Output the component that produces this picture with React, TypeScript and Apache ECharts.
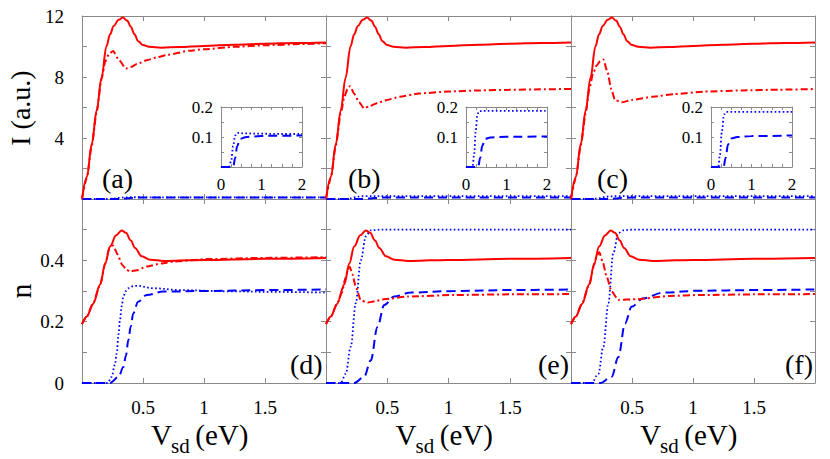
import React, { useEffect, useRef } from 'react';
import * as echarts from 'echarts';

const FONT = 'Liberation Serif, Times New Roman, serif';

// ---------- data (x in eV) ----------
const currentSolid: number[][] = [
  [0, 0], [0.04, 1.45], [0.08, 3.6], [0.12, 5.8], [0.16, 7.95], [0.2, 10.0], [0.23, 10.8],
  [0.26, 11.35], [0.3, 11.75], [0.335, 11.9], [0.37, 11.7], [0.4, 11.3], [0.43, 10.8],
  [0.46, 10.35], [0.5, 10.1], [0.55, 9.98], [0.65, 9.92], [0.8, 9.97], [1.0, 10.04],
  [1.25, 10.12], [1.5, 10.18], [1.75, 10.23], [2.0, 10.27],
];
const currentDashDotA: number[][] = [
  [0, 0], [0.04, 1.4], [0.08, 3.5], [0.12, 5.7], [0.16, 7.85], [0.19, 9.0], [0.22, 9.5],
  [0.255, 9.7], [0.3, 9.15], [0.36, 8.55], [0.4, 8.65], [0.45, 8.85], [0.53, 9.1],
  [0.62, 9.3], [0.7, 9.45], [0.88, 9.72], [1.0, 9.82], [1.25, 9.98], [1.5, 10.08],
  [1.8, 10.16], [2.0, 10.22],
];
const currentDashDotB: number[][] = [
  [0, 0], [0.04, 1.4], [0.08, 3.5], [0.12, 5.6], [0.15, 6.7], [0.175, 7.2], [0.197, 7.4],
  [0.23, 6.9], [0.27, 6.35], [0.31, 5.95], [0.36, 6.1], [0.42, 6.3], [0.5, 6.5], [0.6, 6.7],
  [0.76, 6.92], [1.0, 7.05], [1.25, 7.12], [1.5, 7.16], [1.75, 7.19], [2.0, 7.22],
];
const currentDashDotC: number[][] = [
  [0, 0], [0.04, 1.4], [0.08, 3.5], [0.12, 5.6], [0.15, 7.2], [0.18, 8.2], [0.21, 8.75],
  [0.24, 9.05], [0.265, 9.15], [0.3, 8.3], [0.33, 7.2], [0.36, 6.5], [0.415, 6.34],
  [0.5, 6.5], [0.675, 6.71], [0.85, 6.88], [1.085, 7.04], [1.4, 7.12], [1.7, 7.17], [2.0, 7.21],
];
const currentDottedA: number[][] = [
  [0, 0], [0.2, 0], [0.25, 0.02], [0.3, 0.07], [0.35, 0.105], [0.4, 0.114], [0.6, 0.112],
  [1, 0.111], [1.5, 0.11], [2, 0.11],
];
const currentDashedA: number[][] = [
  [0, 0], [0.3, 0], [0.35, 0.03], [0.4, 0.07], [0.47, 0.094], [0.6, 0.099], [0.8, 0.102],
  [1.2, 0.104], [2, 0.105],
];
const currentDottedB: number[][] = [
  [0, 0], [0.16, 0], [0.2, 0.04], [0.24, 0.12], [0.28, 0.175], [0.32, 0.186], [0.5, 0.187], [2, 0.187],
];
const currentDashedB: number[][] = [
  [0, 0], [0.3, 0], [0.35, 0.03], [0.4, 0.07], [0.47, 0.094], [0.6, 0.098], [0.8, 0.1],
  [1.2, 0.101], [2, 0.102],
];
const currentDottedC: number[][] = [
  [0, 0], [0.18, 0], [0.22, 0.04], [0.27, 0.12], [0.32, 0.175], [0.38, 0.184], [0.6, 0.184], [2, 0.184],
];
const currentDashedC: number[][] = [
  [0, 0], [0.31, 0], [0.36, 0.03], [0.42, 0.075], [0.5, 0.095], [0.65, 0.1], [1, 0.103], [2, 0.105],
];

const occSolid: number[][] = [
  [0, 0.192], [0.04, 0.217], [0.09, 0.258], [0.15, 0.322], [0.19, 0.39], [0.23, 0.445],
  [0.28, 0.482], [0.325, 0.497], [0.36, 0.49], [0.4, 0.465], [0.435, 0.44], [0.49, 0.413],
  [0.56, 0.402], [0.67, 0.398], [0.85, 0.4], [1.0, 0.401], [1.5, 0.405], [2, 0.408],
];
const occDashDotD: number[][] = [
  [0, 0.192], [0.04, 0.217], [0.09, 0.258], [0.15, 0.322], [0.19, 0.39], [0.225, 0.44],
  [0.257, 0.448], [0.29, 0.42], [0.33, 0.385], [0.366, 0.369], [0.393, 0.364], [0.45, 0.368],
  [0.53, 0.38], [0.65, 0.39], [0.75, 0.396], [1.02, 0.404], [1.5, 0.408], [2, 0.41],
];
const occDottedD: number[][] = [
  [0, 0], [0.21, 0], [0.243, 0.02], [0.27, 0.06], [0.284, 0.096], [0.3, 0.16], [0.311, 0.205],
  [0.325, 0.25], [0.339, 0.282], [0.36, 0.3], [0.38, 0.309], [0.42, 0.316], [0.448, 0.317],
  [0.585, 0.309], [0.8, 0.303], [1.2, 0.299], [1.6, 0.297], [2, 0.295],
];
const occDashedD: number[][] = [
  [0, 0], [0.23, 0], [0.3, 0.02], [0.339, 0.052], [0.36, 0.09], [0.38, 0.14], [0.4, 0.185],
  [0.42, 0.227], [0.46, 0.265], [0.53, 0.287], [0.667, 0.298], [1.02, 0.3], [1.5, 0.303], [2, 0.305],
];
const occDashDotE: number[][] = [
  [0, 0.192], [0.04, 0.217], [0.09, 0.258], [0.13, 0.295], [0.16, 0.345], [0.18, 0.372],
  [0.195, 0.378], [0.215, 0.355], [0.243, 0.314], [0.284, 0.27], [0.339, 0.262], [0.4, 0.267],
  [0.475, 0.273], [0.667, 0.282], [1.05, 0.287], [1.5, 0.289], [2, 0.29],
];
const occDottedE: number[][] = [
  [0, 0], [0.12, 0], [0.161, 0.03], [0.202, 0.118], [0.243, 0.26], [0.284, 0.4], [0.325, 0.478],
  [0.366, 0.498], [0.45, 0.5], [2, 0.5],
];
const occDashedE: number[][] = [
  [0, 0], [0.23, 0], [0.311, 0.02], [0.366, 0.074], [0.42, 0.183], [0.475, 0.254], [0.557, 0.282],
  [0.694, 0.295], [1.05, 0.3], [1.5, 0.303], [2, 0.305],
];
const occDashDotF: number[][] = [
  [0, 0.192], [0.04, 0.217], [0.09, 0.258], [0.15, 0.322], [0.19, 0.385], [0.21, 0.415],
  [0.232, 0.426], [0.26, 0.395], [0.292, 0.347], [0.333, 0.298], [0.388, 0.271], [0.538, 0.273],
  [0.81, 0.284], [1.06, 0.287], [1.5, 0.289], [2, 0.29],
];
const occDottedF: number[][] = [
  [0, 0], [0.17, 0], [0.224, 0.03], [0.265, 0.118], [0.306, 0.26], [0.347, 0.424], [0.388, 0.489],
  [0.43, 0.498], [0.5, 0.5], [2, 0.5],
];
const occDashedF: number[][] = [
  [0, 0], [0.238, 0], [0.333, 0.02], [0.388, 0.085], [0.443, 0.194], [0.497, 0.249], [0.593, 0.276],
  [0.757, 0.295], [1.06, 0.301], [1.5, 0.303], [2, 0.305],
];

const panelLabels = ['(a)', '(b)', '(c)', '(d)', '(e)', '(f)'];
const xTickLabels = ['0.5', '1', '1.5'];
const currentTickLabels = ['4', '8', '12'];
const occTickLabels = ['0', '0.2', '0.4'];
const insetXTickLabels = ['0', '1', '2'];
const insetYTickLabels = ['0.1', '0.2'];

// ---------- layout ----------
const GRAY = '#8a8a8a';
const RED = '#ff0000';
const BLUE = '#0000ff';

const grids = [
  { left: 82, top: 16, width: 244, height: 183 },
  { left: 326, top: 16, width: 245, height: 183 },
  { left: 571, top: 16, width: 244, height: 183 },
  { left: 82, top: 199, width: 244, height: 184 },
  { left: 326, top: 199, width: 245, height: 184 },
  { left: 571, top: 199, width: 244, height: 184 },
  { left: 221, top: 107, width: 81, height: 60 },
  { left: 466, top: 107, width: 81, height: 60 },
  { left: 711, top: 107, width: 81, height: 60 },
];

const fmtSet = (labels: string[]) => (v: number) => {
  const s = String(Math.round(v * 1000) / 1000);
  return labels.indexOf(s) >= 0 ? s : '';
};

function makeAxes() {
  const xAxis: any[] = [];
  const yAxis: any[] = [];
  grids.forEach((_, g) => {
    const inset = g >= 6;
    const top = g < 3;
    const xCommon = {
      type: 'value', gridIndex: g, min: 0, max: 2, interval: inset ? 0.25 : 0.5,
      axisLine: { show: true, onZero: false, lineStyle: { color: GRAY, width: 1 } },
      axisTick: { show: true, inside: true, length: inset ? 3 : 5, lineStyle: { color: GRAY } },
      splitLine: { show: false },
    };
    let xLabels: any = { show: false };
    if (inset) {
      xLabels = { show: true, formatter: fmtSet(insetXTickLabels), fontFamily: FONT, fontSize: 17, color: '#000', margin: 9, showMinLabel: true, showMaxLabel: true };
    } else if (!top) {
      xLabels = { show: true, formatter: fmtSet(xTickLabels), fontFamily: FONT, fontSize: 19, color: '#000', margin: 15 };
    }
    xAxis.push({ ...xCommon, position: 'bottom', axisLabel: xLabels });
    xAxis.push({ ...xCommon, position: 'top', axisLabel: { show: false } });

    const yRange = inset ? { min: 0, max: 0.2, interval: 0.05 } : top ? { min: 0, max: 12, interval: 2 } : { min: 0, max: 0.6, interval: 0.1 };
    const yCommon = {
      type: 'value', gridIndex: g, ...yRange,
      axisLine: { show: true, onZero: false, lineStyle: { color: GRAY, width: 1 } },
      axisTick: { show: true, inside: true, length: inset ? 3 : 5, lineStyle: { color: GRAY } },
      splitLine: { show: false },
    };
    let yLabels: any = { show: false };
    if (inset) {
      yLabels = { show: true, formatter: fmtSet(insetYTickLabels), fontFamily: FONT, fontSize: 17, color: '#000', margin: 8, showMaxLabel: true };
    } else if (g === 0) {
      yLabels = { show: true, formatter: fmtSet(currentTickLabels), fontFamily: FONT, fontSize: 19, color: '#000', margin: 18, showMaxLabel: true };
    } else if (g === 3) {
      yLabels = { show: true, formatter: fmtSet(occTickLabels), fontFamily: FONT, fontSize: 19, color: '#000', margin: 18, showMinLabel: true };
    }
    yAxis.push({ ...yCommon, position: 'left', axisLabel: yLabels });
    yAxis.push({ ...yCommon, position: 'right', axisLabel: { show: false } });
  });
  return { xAxis, yAxis };
}

type Kind = 'solid' | 'dashdot' | 'dotted' | 'dashed';
function line(data: number[][], kind: Kind, g: number): any {
  const style: any = {
    solid: { color: RED, width: 2, type: 'solid' },
    dashdot: { color: RED, width: 2, type: [7, 3, 2, 3] },
    dotted: { color: BLUE, width: 1.8, type: [1.6, 2.4] },
    dashed: { color: BLUE, width: 2, type: [9, 5] },
  }[kind];
  return {
    type: 'line', data, xAxisIndex: 2 * g, yAxisIndex: 2 * g,
    showSymbol: false, symbol: 'none',
    smooth: kind === 'dashdot' ? 0.2 : 0.35, smoothMonotone: 'x',
    lineStyle: { ...style, cap: 'butt' }, itemStyle: { color: style.color },
    silent: true, clip: true,
  };
}

function makeSeries() {
  const s: any[] = [];
  const top = [
    [currentDottedA, currentDashedA, currentDashDotA],
    [currentDottedB, currentDashedB, currentDashDotB],
    [currentDottedC, currentDashedC, currentDashDotC],
  ];
  top.forEach((p, i) => {
    s.push(line(p[0], 'dotted', i));
    s.push(line(p[1], 'dashed', i));
    s.push(line(p[2], 'dashdot', i));
    s.push(line(currentSolid, 'solid', i));
    s.push(line(p[0], 'dotted', 6 + i));
    s.push(line(p[1], 'dashed', 6 + i));
  });
  const bottom = [
    [occDottedD, occDashedD, occDashDotD],
    [occDottedE, occDashedE, occDashDotE],
    [occDottedF, occDashedF, occDashDotF],
  ];
  bottom.forEach((p, i) => {
    s.push(line(p[0], 'dotted', 3 + i));
    s.push(line(p[1], 'dashed', 3 + i));
    s.push(line(p[2], 'dashdot', 3 + i));
    s.push(line(occSolid, 'solid', 3 + i));
  });
  return s;
}

function txt(x: number, y: number, text: string, size: number, align: string, valign: string, rotation = 0): any {
  return {
    type: 'text', x, y, rotation, silent: true,
    style: { text, fontFamily: FONT, fontSize: size, fill: '#000', align, verticalAlign: valign },
  };
}

function makeGraphic() {
  const els: any[] = [];
  const labelPos = [
    [102, 178], [348, 178], [597, 178], [290, 364], [538, 364], [785, 364],
  ];
  panelLabels.forEach((t, i) => {
    els.push(txt(labelPos[i][0], labelPos[i][1], t, 28, 'left', 'middle'));
  });
  els.push(txt(20, 108, 'I (a.u.)', 28, 'center', 'middle', Math.PI / 2));
  els.push(txt(20, 291, 'n', 30, 'center', 'middle', Math.PI / 2));
  [204, 448.5, 693].forEach((cx) => {
    const x0 = cx - 53;
    els.push(txt(x0, 449, 'V', 29, 'left', 'bottom'));
    els.push(txt(x0 + 20, 456, 'sd', 21, 'left', 'bottom'));
    els.push(txt(x0 + 37, 449, ' (eV)', 29, 'left', 'bottom'));
  });
  return els;
}

export default function App() {
  const ref = useRef<HTMLDivElement>(null);
  useEffect(() => {
    if (!ref.current) return;
    const chart = echarts.init(ref.current, undefined, { renderer: 'svg' });
    const { xAxis, yAxis } = makeAxes();
    chart.setOption({
      animation: false,
      backgroundColor: '#fff',
      textStyle: { fontFamily: FONT },
      grid: grids.map((g) => ({ ...g, containLabel: false })),
      xAxis,
      yAxis,
      series: makeSeries(),
      graphic: makeGraphic(),
    });
    return () => chart.dispose();
  }, []);
  return (
    <div
      ref={ref}
      style={{ position: 'fixed', left: 0, top: 0, width: 830, height: 459, background: '#fff' }}
    />
  );
}
